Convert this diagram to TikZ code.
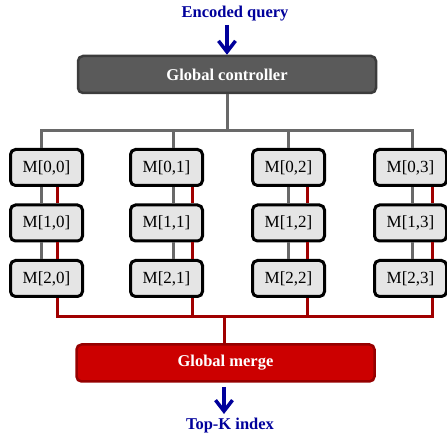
\documentclass[tikz,border=0pt]{standalone}
\usepackage{fontspec}
\setmainfont{Liberation Serif}
\usetikzlibrary{arrows.meta}
\definecolor{navy}{RGB}{0,0,155}
\definecolor{ctrlfill}{RGB}{90,90,90}
\definecolor{ctrldraw}{RGB}{60,60,60}
\definecolor{mergefill}{RGB}{204,0,0}
\definecolor{mergedraw}{RGB}{150,0,0}
\definecolor{busgray}{RGB}{105,105,105}
\definecolor{busred}{RGB}{160,0,0}
\definecolor{cellfill}{RGB}{229,229,229}
\begin{document}
\begin{tikzpicture}[x=1pt,y=-1pt,
  lbl/.style={font=\fontsize{16.5}{18}\selectfont\bfseries, text=navy, inner sep=0pt},
  bigbox/.style={rounded corners=5pt, line width=2.5pt, minimum width=298pt, minimum height=37pt, inner sep=0pt, font=\fontsize{16.5}{18}\selectfont\bfseries, text=white},
  cell/.style={draw=black, fill=cellfill, rounded corners=5pt, line width=3pt, minimum width=72pt, minimum height=36pt, inner sep=0pt, font=\fontsize{17}{19}\selectfont},
  flow/.style={navy, line width=3.5pt, -{Straight Barb[length=11pt,width=17pt,line width=3.5pt]}},
  gbus/.style={busgray, line width=3pt},
  rbus/.style={busred, line width=3pt}]
\useasboundingbox (0,0) rectangle (447,435);
\node[lbl] (eq) at (235,14) {Encoded query};
\node[bigbox, draw=ctrldraw, fill=ctrlfill] (gc) at (227,74.5) {Global controller};
\node[bigbox, draw=mergedraw, fill=mergefill] (gm) at (225.5,363) {Global merge};
\node[lbl] (tk) at (230,426) {Top-K index};
\coordinate (eqa) at (227,25);
\coordinate (tka) at (224,387);
\coordinate (tkb) at (224,414);
\draw[flow] (eqa) -- (gc.north -| eqa);
\draw[flow] (tka) -- (tkb);
% cells
\foreach \c/\x in {0/46.5,1/166.5,2/288.5,3/410.5}{
  \foreach \r/\y in {0/167.5,1/223,2/278.5}{
    \node[cell] (m\r\c) at (\x,\y) {M[\r,\c]};
  }
}
% gray bus
\coordinate (gt) at (227,131);
\draw[gbus] (gc.south -| gt) -- (gt);
\draw[gbus] (m00.north -| {(41,0)}) -- (41,131) -- (412,131) -- (m03.north -| {(412,0)});
\foreach \c/\gx in {1/173,2/288}{
  \draw[gbus] (\gx,131) -- (m0\c.north -| {(\gx,0)});
}
\foreach \c/\gx in {0/41,1/173,2/288,3/412}{
  \draw[gbus] (m0\c.south -| {(\gx,0)}) -- (m1\c.north -| {(\gx,0)});
  \draw[gbus] (m1\c.south -| {(\gx,0)}) -- (m2\c.north -| {(\gx,0)});
}
% red bus
\coordinate (rb) at (224,317);
\foreach \c/\rx in {0/57.5,1/192,2/307,3/432}{
  \draw[rbus] (m0\c.south -| {(\rx,0)}) -- (m1\c.north -| {(\rx,0)});
  \draw[rbus] (m1\c.south -| {(\rx,0)}) -- (m2\c.north -| {(\rx,0)});
}
\draw[rbus] (m20.south -| {(57.5,0)}) -- (57.5,317) -- (432,317) -- (m23.south -| {(432,0)});
\foreach \c/\rx in {1/192,2/307}{
  \draw[rbus] (m2\c.south -| {(\rx,0)}) -- (\rx,317);
}
\draw[rbus] (rb) -- (gm.north -| rb);
\end{tikzpicture}
\end{document}
